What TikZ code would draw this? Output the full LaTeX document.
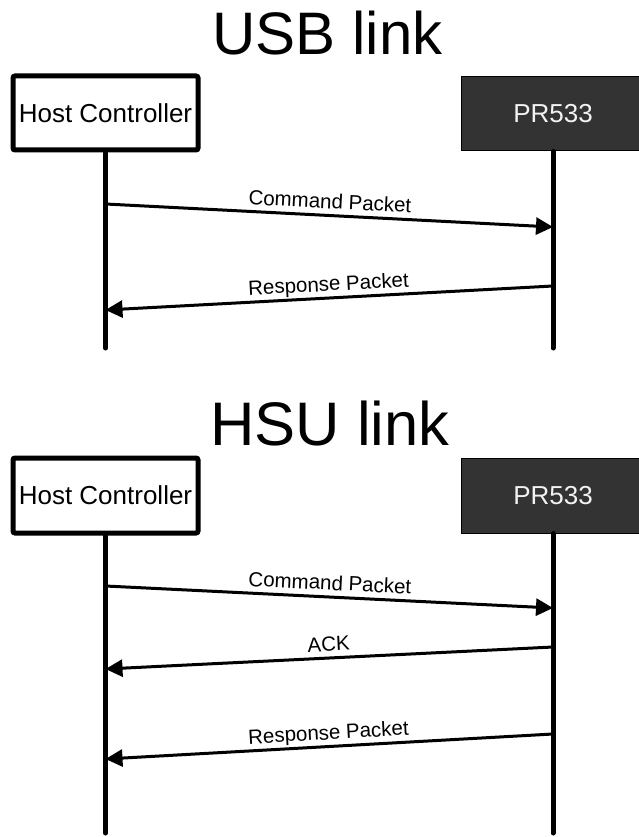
\documentclass[tikz,border=0pt]{standalone}
\usepackage{fontspec}
\setmainfont{Liberation Sans}
\usetikzlibrary{arrows.meta}
\definecolor{devgray}{HTML}{333333}
\definecolor{devtext}{HTML}{F2F2F2}
\begin{document}
\begin{tikzpicture}[x=1pt,y=-1pt,
  hostbox/.style={draw=black, line width=5pt, fill=white, rounded corners=2pt, minimum width=185pt, minimum height=74pt, inner sep=0pt, font=\fontsize{26}{30}\selectfont},
  devbox/.style={draw=black, line width=1pt, fill=devgray, minimum width=184pt, minimum height=74pt, inner sep=0pt, text=devtext, font=\fontsize{26}{30}\selectfont},
  lifeline/.style={line width=5pt, line cap=round},
  msg/.style={line width=3pt, -{Triangle[length=17pt,width=17pt]}},
  msglabel/.style={font=\fontsize{20.5}{24}\selectfont, sloped, above, inner sep=5.5pt, text depth=0pt},
  titletext/.style={anchor=base, inner sep=0pt}]
\useasboundingbox (0,0) rectangle (638,837);

% ---------- USB link ----------
\node[titletext, font=\fontsize{60}{70}\selectfont] (t1) at (327.5,55) {USB link};
\node[hostbox] (h1) at (105.5,113) {Host Controller};
\node[devbox] (p1) at (553,114) {PR533};
\coordinate (h1end) at (105.5,348);
\coordinate (p1end) at (553,348);
\draw[lifeline] (h1.south) -- (h1end);
\draw[lifeline] (p1.south) -- (p1end);

\coordinate (u1a) at (105.5,204);
\coordinate (u1b) at (553,227);
\coordinate (u2a) at (553,286);
\coordinate (u2b) at (105.5,310);
\draw[msg] (u1a) -- node[msglabel] (lu1) {Command Packet} (u1b);
\draw[msg] (u2a) -- node[msglabel] (lu2) {Response Packet} (u2b);

% ---------- HSU link ----------
\node[titletext, font=\fontsize{61.5}{70}\selectfont] (t2) at (330,445) {HSU link};
\node[hostbox, minimum height=75pt] (h2) at (105.5,495.5) {Host Controller};
\node[devbox, minimum height=75pt] (p2) at (553,495.5) {PR533};
\coordinate (h2end) at (105.5,833);
\coordinate (p2end) at (553,833);
\draw[lifeline] (h2.south) -- (h2end);
\draw[lifeline] (p2.south) -- (p2end);

\coordinate (s1a) at (105.5,586);
\coordinate (s1b) at (553,608);
\coordinate (s2a) at (553,647);
\coordinate (s2b) at (105.5,669);
\coordinate (s3a) at (553,734);
\coordinate (s3b) at (105.5,759);
\draw[msg] (s1a) -- node[msglabel] (ls1) {Command Packet} (s1b);
\draw[msg] (s2a) -- node[msglabel] (ls2) {ACK} (s2b);
\draw[msg] (s3a) -- node[msglabel] (ls3) {Response Packet} (s3b);
\end{tikzpicture}
\end{document}
